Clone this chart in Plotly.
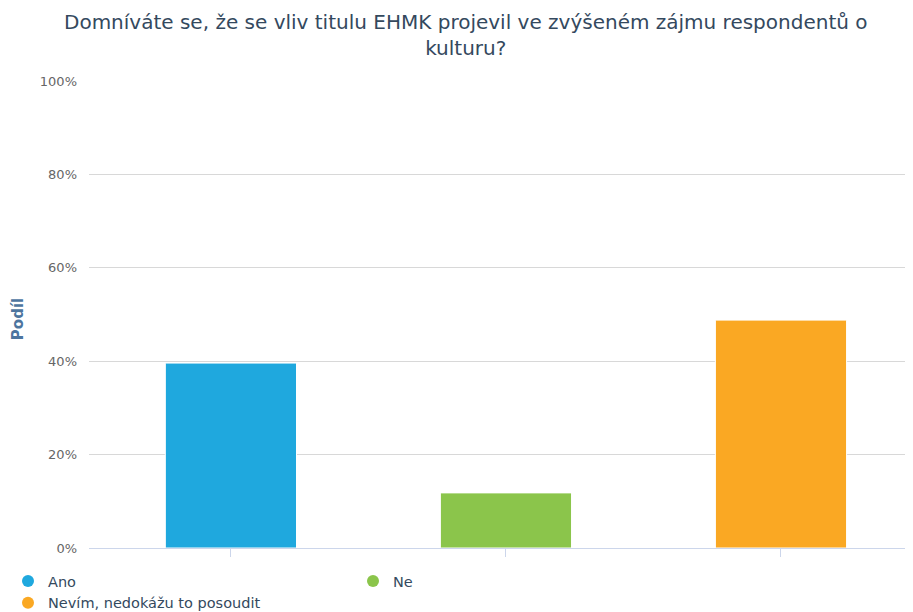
import plotly.graph_objects as go

categories = ["Ano", "Ne", "Nevím, nedokážu to posoudit"]
values = [39.6, 11.8, 48.8]
colors = ["#1fa8de", "#8bc54b", "#faa823"]
y_ticks = [0, 20, 40, 60, 80, 100]
y_tick_labels = ["0%", "20%", "40%", "60%", "80%", "100%"]
title_text = "Domníváte se, že se vliv titulu EHMK projevil ve zvýšeném zájmu respondentů o<br>kulturu?"
y_title = "Podíl"

FONT = "DejaVu Sans"

fig = go.Figure()
for i, (cat, val, col) in enumerate(zip(categories, values, colors)):
    fig.add_trace(go.Bar(
        x=[i], y=[val], name=cat, marker=dict(color=col, line=dict(width=1, color="white")),
        width=0.477, showlegend=False, hoverinfo="y"))
    fig.add_trace(go.Scatter(
        x=[None], y=[None], mode="markers", name=cat,
        marker=dict(symbol="circle", size=12, color=col), showlegend=True))

fig.update_layout(
    width=905, height=604,
    paper_bgcolor="white", plot_bgcolor="white",
    margin=dict(l=81, r=0, t=73, b=64, autoexpand=False),
    barmode="overlay",
    xaxis=dict(
        range=[-0.516, 2.48], tickvals=[0, 1, 2], ticktext=["", "", ""],
        showgrid=False, zeroline=False, showline=True, linecolor="#ccd6eb", linewidth=1,
        ticks="outside", ticklen=8, tickcolor="#ccd6eb", fixedrange=True, automargin=False),
    yaxis=dict(
        range=[0, 100], tickvals=y_ticks, ticktext=y_tick_labels,
        showgrid=True, gridcolor="#d8d8d8", gridwidth=1, zeroline=False,
        tickfont=dict(family=FONT, size=13, color="#666666"),
        ticks="", ticklabelstandoff=11, automargin=False),
    legend=dict(
        orientation="h", xref="container", yref="container",
        x=-0.0166, y=0.0778, xanchor="left", yanchor="top",
        entrywidth=300, entrywidthmode="pixels",
        font=dict(family=FONT, size=14.5, color="#34495e"),
        itemclick=False, tracegroupgap=0),
    annotations=[
        dict(text=title_text, xref="paper", yref="paper", x=0.4575, y=1.0985,
             xanchor="center", yanchor="middle", showarrow=False,
             font=dict(family=FONT, size=20, color="#34495e")),
        dict(text="<b>" + y_title + "</b>", xref="paper", yref="paper", x=-0.0862, y=0.49,
             xanchor="center", yanchor="middle", textangle=-90, showarrow=False,
             font=dict(family=FONT, size=15, color="#4d759e")),
    ],
)

fig.write_html("out.html")
